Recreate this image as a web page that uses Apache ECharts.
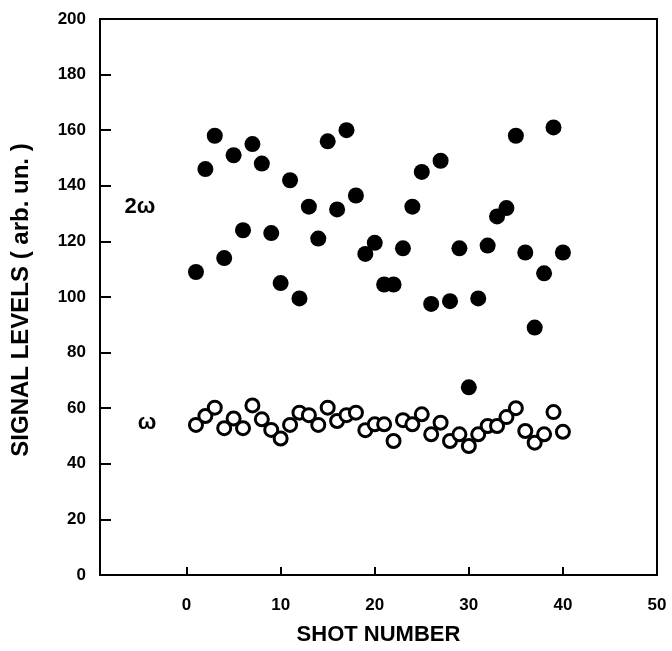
<!DOCTYPE html>
<html>
<head>
<meta charset="utf-8">
<script src="https://cdn.jsdelivr.net/npm/echarts@6/dist/echarts.min.js"></script>
<style>html,body{margin:0;padding:0;background:#fff}#c{width:672px;height:651px}</style>
</head>
<body>
<div id="c"></div>
<script>
const shots = [1,2,3,4,5,6,7,8,9,10,11,12,13,14,15,16,17,18,19,20,21,22,23,24,25,26,27,28,29,30,31,32,33,34,35,36,37,38,39,40];
const twoOmega = [109,146,158,114,151,124,155,148,123,105,142,99.5,132.5,121,156,131.5,160,136.5,115.5,119.5,104.5,104.5,117.5,132.5,145,97.5,149,98.5,117.5,67.5,99.5,118.5,129,132,158,116,89,108.5,161,116];
const omega = [54,57.2,60.2,52.8,56.3,52.8,61,56,52.2,49.1,54,58.4,57.5,54,60.2,55.4,57.5,58.4,52.1,54.2,54.2,48.2,55.7,54.2,57.8,50.6,54.8,48.2,50.6,46.4,50.6,53.6,53.6,56.8,60,51.8,47.6,50.6,58.6,51.5];
const xTicks = [0,10,20,30,40,50];

const FONT = 'Liberation Sans, Arial, Helvetica, sans-serif';
const chart = echarts.init(document.getElementById('c'));
chart.setOption({
  animation: false,
  backgroundColor: '#fff',
  grid: {left: 100, right: 15, top: 19, bottom: 75, show: true, borderColor: '#000', borderWidth: 2},
  xAxis: {
    type: 'value', min: -9.2, max: 50,
    name: 'SHOT NUMBER', nameLocation: 'middle', nameGap: 49,
    nameTextStyle: {fontFamily: FONT, fontSize: 22, fontWeight: 'bold', color: '#000'},
    axisLine: {lineStyle: {color: '#000', width: 2}},
    axisTick: {inside: true, length: 8, lineStyle: {color: '#000', width: 2}, customValues: xTicks},
    axisLabel: {margin: 22, fontFamily: FONT, fontSize: 17, fontWeight: 'bold', color: '#000', customValues: xTicks},
    splitLine: {show: false}
  },
  yAxis: {
    type: 'value', min: 0, max: 200, interval: 20,
    axisLine: {onZero: false, lineStyle: {color: '#000', width: 2}},
    axisTick: {inside: true, length: 11, lineStyle: {color: '#000', width: 2}},
    axisLabel: {margin: 14, fontFamily: FONT, fontSize: 17, fontWeight: 'bold', color: '#000'},
    splitLine: {show: false}
  },
  graphic: [
    {type: 'text', x: 21, y: 300, rotation: Math.PI/2,
     style: {text: 'SIGNAL LEVELS ( arb. un. )', fontFamily: FONT, fontSize: 24, fontWeight: 'bold', fill: '#000', align: 'center', verticalAlign: 'middle'}},
    {type: 'text', x: 140, y: 207, style: {text: '2ω', fontFamily: FONT, fontSize: 22, fontWeight: 'bold', fill: '#000', align: 'center', verticalAlign: 'middle'}},
    {type: 'text', x: 147, y: 423, style: {text: 'ω', fontFamily: FONT, fontSize: 22, fontWeight: 'bold', fill: '#000', align: 'center', verticalAlign: 'middle'}}
  ],
  series: [
    {type: 'scatter', data: shots.map((s,i)=>[s, twoOmega[i]]), symbol: 'circle', symbolSize: 16,
     itemStyle: {color: '#000', opacity: 1}},
    {type: 'scatter', data: shots.map((s,i)=>[s, omega[i]]), symbol: 'circle', symbolSize: 13,
     itemStyle: {color: '#fff', borderColor: '#000', borderWidth: 3, opacity: 1}}
  ]
});
</script>
</body>
</html>
